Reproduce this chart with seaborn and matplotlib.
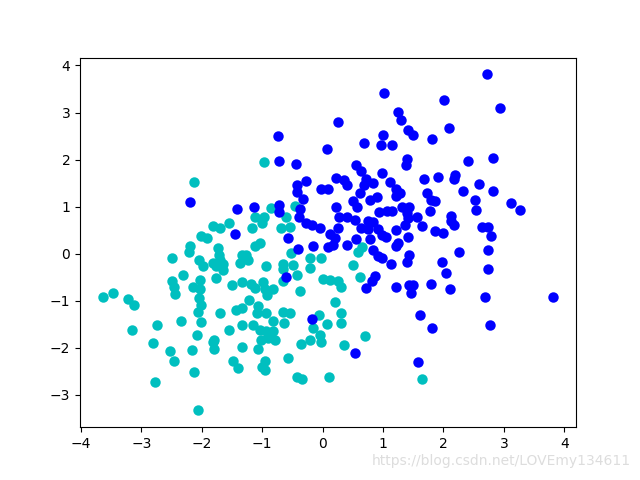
import numpy as np
import pandas as pd
import seaborn as sns
import matplotlib
matplotlib.use('Agg')
import matplotlib.pyplot as plt

# points
blue_x = [1.01, 1.25, 1.30, 1.41, 0.25, -0.74, 0.07, 0.69, 1.00, 0.97, 1.15,
          2.72, 2.01, 2.94, 1.50, 2.10, 1.81,
          -0.72, -0.44, 0.56, 0.63, 1.40, 1.38, 0.99, 0.22, 0.35, 0.41, 0.72,
          0.83, 0.68, 1.12, -0.28, -0.42, -0.42, -0.02, 0.09, 0.62, 1.22, 1.28,
          1.22, -0.33, 0.90, 0.78, 0.51, 0.57, 0.23, -0.72, -0.72, -1.14, -1.42,
          -0.38, -0.39, 0.94, 1.06, 1.15, 1.32, 1.43, 1.39, 0.28, 0.40, 0.53,
          -0.27, -0.18, -0.05, 0.26, 0.63, 0.75, 0.83, 0.75, 0.92, 0.98, 1.05,
          1.22, 1.36, 0.13, 0.20, 0.56, 0.79, 1.25, -0.57, -0.41, -0.15, 0.09,
          0.17, 0.41,
          2.41, 2.82, 1.68, 1.91, 2.19, 2.18, 2.59, 2.33, 2.82, 1.73, 1.79, 1.86,
          2.52, 3.12, 3.27, 1.78, 2.54, 1.57, 2.12, 2.13, 2.18, 1.42, 1.64, 2.63,
          2.74, 1.86, 2.00, 2.79, 1.41,
          1.43, 1.39, 2.26, 2.74, 1.97, 2.05, 2.74, 1.43, 1.50, 1.46, 1.79, 2.11,
          2.69, 3.82, 1.61, 1.81, 2.77,
          0.84, 0.92, 0.98, 1.14, 1.22, 0.86, 0.81, 0.72, 1.21, -0.60, -0.17,
          0.53, 1.58, -2.19, -1.45]
blue_y = [3.41, 3.02, 2.85, 2.63, 2.80, 2.51, 2.22, 2.36, 2.53, 2.32, 2.32,
          3.81, 3.27, 3.10, 2.53, 2.68, 2.43,
          1.98, 1.90, 1.88, 1.76, 2.01, 1.89, 1.71, 1.60, 1.56, 1.47, 1.59,
          1.51, 1.46, 1.53, 1.55, 1.45, 1.32, 1.37, 1.37, 1.28, 1.37, 1.30,
          1.23, 1.16, 1.21, 1.14, 1.11, 1.00, 1.00, 1.03, 0.89, 1.00, 0.95,
          0.94, 0.79, 0.89, 0.91, 0.91, 1.00, 1.00, 0.87, 0.79, 0.77, 0.72,
          0.65, 0.62, 0.54, 0.55, 0.54, 0.69, 0.67, 0.52, 0.52, 0.40, 0.36,
          0.50, 0.62, 0.41, 0.33, 0.31, 0.31, 0.22, 0.33, 0.11, 0.16, 0.14,
          0.18, 0.18,
          1.98, 2.04, 1.59, 1.62, 1.67, 1.59, 1.49, 1.33, 1.33, 1.28, 1.14, 1.11,
          1.14, 1.07, 0.93, 0.91, 0.92, 0.77, 0.81, 0.69, 0.61, 0.75, 0.58, 0.56,
          0.56, 0.48, 0.43, 0.38, 0.36,
          -0.03, -0.17, 0.04, 0.07, -0.17, -0.40, -0.33, -0.67, -0.66, -0.84,
          -0.65, -0.74, -0.91, -0.93, -1.31, -1.57, -1.52,
          0.07, -0.05, -0.10, -0.22, 0.16, -0.47, -0.57, -0.73, -0.71, -0.50,
          -1.38, -2.10, -2.31, 1.09, 0.41]

cyan_x = [-0.97, -2.13, -1.55, -1.81, -1.70, -2.01, -1.91, -2.20, -1.73, -2.21,
          -1.71, -1.70, -1.34, -1.37, -2.49, -2.05, -1.97, -1.82, -1.77, -1.65,
          -1.64, -2.31, -2.49, -2.45, -2.44, -2.14, -2.03, -2.02, -1.77, -1.50,
          -1.34, -3.64, -3.46, -3.22, -3.12, -2.05, -2.01, -2.06, -1.70, -1.43,
          -1.34, -2.35, -2.74, -2.01, -1.34, -3.16, -2.08, -1.79, -1.54, -2.81,
          -2.53, -2.46, -2.16, -1.81, -1.80, -1.34, -1.48, -1.40, -2.13, -2.77,
          -2.06, -1.07, -1.02, -0.36, -0.21, -0.03, 0.36, -0.57, -0.96, -1.01,
          -0.95, -0.42, -0.34, 0.10, 0.71, 1.65,
          -1.26, -1.23, -0.52, -0.21, -0.02, -0.93, -0.66, -0.65, -0.49, -0.20,
          -0.42, -0.65, 0.00, 0.13, 0.26, 0.31, 0.51, 0.62, 0.66, 0.59, -1.18,
          -1.12, -0.99, -0.96, -0.82, -0.92, -0.38, -1.21, -1.07, -1.09, -0.93,
          -0.65, -0.54, 0.20, 0.31, 0.31, -0.06, 0.07, -0.16, -0.63, -0.82,
          -1.15, -1.04, -0.93, -0.82, -0.90, -0.78, -0.05,
          -0.86, -0.46, -1.12, -0.97, -1.01, -1.16, -0.60, -0.68, -0.54, -1.04,
          -1.11]
cyan_y = [1.94, 1.52, 0.65, 0.58, 0.55, 0.38, 0.33, 0.16, 0.13, 0.04,
          -0.03, -0.13, -0.03, -0.20, -0.10, -0.13, -0.26, -0.20, -0.27, -0.22,
          -0.35, -0.46, -0.58, -0.70, -0.86, -0.70, -0.74, -0.56, -0.51, -0.66,
          -0.61, -0.93, -0.83, -0.97, -1.10, -0.95, -1.09, -1.23, -1.25, -1.20,
          -1.16, -1.44, -1.52, -1.46, -1.51, -1.63, -1.73, -1.83, -1.63, -1.89,
          -2.07, -2.28, -2.04, -1.88, -2.02, -1.99, -2.28, -2.42, -2.52, -2.72,
          -3.33, -2.02, -1.83, -1.92, -1.83, -1.88, -1.93, -2.21, -2.29, -2.40,
          -2.47, -2.63, -2.66, -2.63, -1.75, -2.67,
          -0.03, -0.13, 0.02, -0.10, -0.10, -0.27, -0.22, -0.33, -0.24, -0.31,
          -0.45, -0.57, -0.54, -0.56, -0.59, -0.70, -0.24, -0.49, 0.14, 0.04,
          -0.64, -0.73, -0.61, -0.76, -0.76, -0.88, -0.80, -0.98, -1.12, -1.27,
          -1.27, -1.23, -1.27, -1.03, -1.25, -1.48, -1.30, -1.49, -1.58, -1.48,
          -1.42, -1.51, -1.62, -1.65, -1.65, -1.80, -1.83, -1.73,
          0.98, 1.01, 0.77, 0.79, 0.65, 0.55, 0.77, 0.55, 0.57, 0.22, 0.17]

fig, ax = plt.subplots(figsize=(6.4, 4.8), dpi=100)
sns.scatterplot(x=cyan_x, y=cyan_y, color='c', s=36, linewidth=1.5,
                edgecolor='c', ax=ax)
sns.scatterplot(x=blue_x, y=blue_y, color='b', s=36, linewidth=1.5,
                edgecolor='b', ax=ax)

fig.text(0.985, 0.025, 'https://blog.csdn.net/LOVEmy134611', ha='right',
         va='bottom', fontsize=10, color='#dddddd')

plt.savefig('out.png')
